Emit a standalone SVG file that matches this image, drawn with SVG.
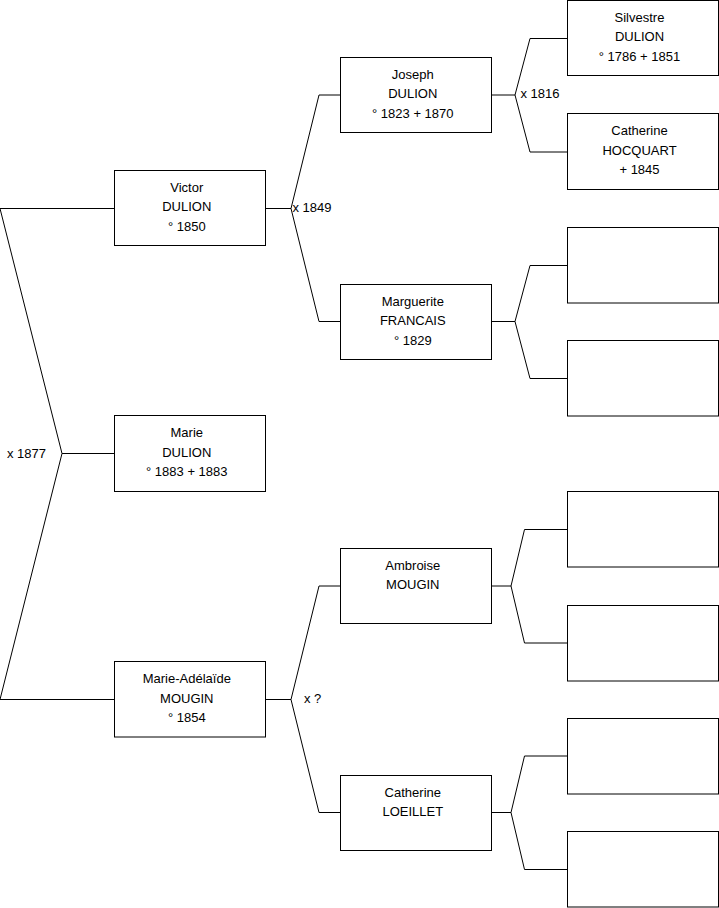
<svg xmlns="http://www.w3.org/2000/svg" width="719" height="908" viewBox="0 0 719 908">
<style>
.box{fill:#fff;stroke:#000;stroke-width:1}
.ln{fill:none;stroke:#000;stroke-width:1}
text{font-family:"Liberation Sans",Arial,sans-serif;font-size:13px;fill:#000}
.c{text-anchor:middle}
</style>
<rect width="719" height="908" fill="#fff"/>
<g id="connectors">
<path class="ln" d="M0,208.5 H114.5 M0,208.5 L62,453.5 L0,699.5 H114.5 M62,453.5 H114.5"/>
<path class="ln" d="M265.5,208.5 H291 L319,95 H340.5 M291,208.5 L319,321.5 H340.5"/>
<path class="ln" d="M265.5,699.5 H291 L319,586 H340.5 M291,699.5 L319,812.5 H340.5"/>
<path class="ln" d="M491.5,95 H515 L530,38.5 H567.5 M515,95 L530,152 H567.5"/>
<path class="ln" d="M491.5,321.5 H515 L530,265.5 H567.5 M515,321.5 L530,378.5 H567.5"/>
<path class="ln" d="M491.5,586 H511 L524.5,529.5 H567.5 M511,586 L524.5,643 H567.5"/>
<path class="ln" d="M491.5,812.5 H511 L524.5,756 H567.5 M511,812.5 L524.5,869.5 H567.5"/>
<text x="7" y="458">x 1877</text>
<text x="292.5" y="212">x 1849</text>
<text x="304" y="702.5">x ?</text>
<text x="520.5" y="98">x 1816</text>
</g>
<g id="victor">
<rect class="box" x="114.5" y="170.5" width="151" height="75"/>
<text class="c" x="186.8" y="191.5">Victor</text>
<text class="c" x="186.8" y="211">DULION</text>
<text class="c" x="186.8" y="230.7">° 1850</text>
</g>
<g id="marie">
<rect class="box" x="114.5" y="415.5" width="151" height="76"/>
<text class="c" x="186.8" y="437.2">Marie</text>
<text class="c" x="186.8" y="456.7">DULION</text>
<text class="c" x="186.8" y="476.4">° 1883 + 1883</text>
</g>
<g id="marie-adelaide">
<rect class="box" x="114.5" y="661.5" width="151" height="75.5"/>
<text class="c" x="186.8" y="683.2">Marie-Adélaïde</text>
<text class="c" x="186.8" y="702.7">MOUGIN</text>
<text class="c" x="186.8" y="722.4">° 1854</text>
</g>
<g id="joseph">
<rect class="box" x="340.5" y="57.5" width="151" height="75"/>
<text class="c" x="412.8" y="78.8">Joseph</text>
<text class="c" x="412.8" y="98.3">DULION</text>
<text class="c" x="412.8" y="118">° 1823 + 1870</text>
</g>
<g id="marguerite">
<rect class="box" x="340.5" y="284.5" width="151" height="75"/>
<text class="c" x="412.8" y="305.5">Marguerite</text>
<text class="c" x="412.8" y="325">FRANCAIS</text>
<text class="c" x="412.8" y="344.7">° 1829</text>
</g>
<g id="ambroise">
<rect class="box" x="340.5" y="548.5" width="151" height="75"/>
<text class="c" x="412.8" y="569.8">Ambroise</text>
<text class="c" x="412.8" y="589.3">MOUGIN</text>
</g>
<g id="catherine-loeillet">
<rect class="box" x="340.5" y="775.5" width="151" height="75"/>
<text class="c" x="412.8" y="796.5">Catherine</text>
<text class="c" x="412.8" y="816">LOEILLET</text>
</g>
<g id="silvestre">
<rect class="box" x="567.5" y="0.5" width="151" height="75"/>
<text class="c" x="639.5" y="21.5">Silvestre</text>
<text class="c" x="639.5" y="41">DULION</text>
<text class="c" x="639.5" y="60.7">° 1786 + 1851</text>
</g>
<g id="catherine-hocquart">
<rect class="box" x="567.5" y="113.5" width="151" height="76"/>
<text class="c" x="639.5" y="135.2">Catherine</text>
<text class="c" x="639.5" y="154.7">HOCQUART</text>
<text class="c" x="639.5" y="174.4">+ 1845</text>
</g>
<g id="empty-1"><rect class="box" x="567.5" y="227.5" width="151" height="75.5"/></g>
<g id="empty-2"><rect class="box" x="567.5" y="340.5" width="151" height="75.5"/></g>
<g id="empty-3"><rect class="box" x="567.5" y="491.5" width="151" height="75.5"/></g>
<g id="empty-4"><rect class="box" x="567.5" y="605.5" width="151" height="75.5"/></g>
<g id="empty-5"><rect class="box" x="567.5" y="718.5" width="151" height="75.5"/></g>
<g id="empty-6"><rect class="box" x="567.5" y="831.5" width="151" height="75.5"/></g>
</svg>
